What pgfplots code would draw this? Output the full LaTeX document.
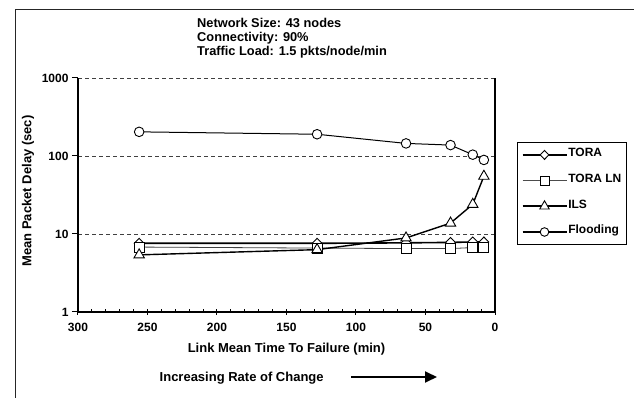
\documentclass[border=0pt]{standalone}
\usepackage{pgfplots}
\pgfplotsset{compat=1.18}
\usepackage{fontspec}
\setmainfont{Liberation Sans}
\usetikzlibrary{arrows.meta}
\begin{document}
\begin{tikzpicture}
\useasboundingbox (0pt,0pt) rectangle (634pt,398pt);
\draw[line width=1pt, black!85] (15pt,0pt) -- (15pt,388pt) -- (634pt,388pt);
\node[anchor=base west, font=\fontsize{12.8}{13}\selectfont\bfseries, inner sep=0pt] at (197pt,370pt) {Network Size: 43 nodes};
\node[anchor=base west, font=\fontsize{12.8}{13}\selectfont\bfseries, inner sep=0pt] at (197pt,356pt) {Connectivity: 90\%};
\node[anchor=base west, font=\fontsize{12.8}{13}\selectfont\bfseries, inner sep=0pt] at (197pt,342pt) {Traffic Load: 1.5 pkts/node/min};
\begin{axis}[
  at={(78pt,86pt)}, anchor=south west,
  scale only axis, width=417pt, height=234pt,
  x dir=reverse, xmin=0, xmax=300,
  ymode=log, ymin=1, ymax=1000,
  axis x line*=bottom, axis y line*=left,
  axis line style={line width=1.2pt, black},
  xtick={0,50,100,150,200,250,300},
  minor x tick num=4,
  ytick={1,10,100,1000}, yticklabels={1,10,100,1000},
  yminorticks=false,
  tick align=center,
  major tick length=6pt, minor tick length=3pt,
  every tick/.style={black, line width=1pt},
  minor x tick style={yshift=1.5pt},
  y tick style={xshift=-3pt},
  ymajorgrids,
  grid style={black!75, line width=0.9pt, dash pattern=on 4pt off 3pt},
  /pgf/number format/assume math mode=true,
  tick label style={font=\fontsize{12}{12}\selectfont\bfseries},
  x tick label style={yshift=-5pt},
  y tick label style={xshift=-3pt},
  xlabel={Link Mean Time To Failure (min)},
  ylabel={Mean Packet Delay (sec)},
  label style={font=\fontsize{13}{13}\selectfont\bfseries},
  xlabel style={at={(axis description cs:0.5,-0.171)}, anchor=base},
  ylabel style={at={(axis description cs:-0.12,0.517)}, anchor=center, rotate=0},
  legend style={at={(1.0535,0.7278)}, anchor=north west, draw=black, line width=0.8pt,
    font=\fontsize{12}{12}\selectfont\bfseries,
    inner xsep=4pt, inner ysep=5pt, row sep=10.1pt,
    nodes={inner sep=1pt, text height=8.6pt, text depth=5pt},
    legend cell align=left},
  legend image code/.code={\draw[mark repeat=2,mark phase=2,#1] plot coordinates {(0pt,0pt) (22pt,0pt) (44pt,0pt)};},
  clip=false,
]
\addplot[forget plot, black, line width=1.6pt, mark=diamond*, mark size=5pt, mark options={solid, fill=white, xscale=1.3, line width=0.9pt}]
  coordinates {(256,7.6) (128,7.6) (64,7.7) (32,7.8) (16,7.9) (8,7.9)};
\addplot[forget plot, black!75, line width=0.8pt, mark=square*, mark size=5pt, mark options={solid, fill=white, line width=0.9pt, draw=black}]
  coordinates {(256,6.8) (128,6.6) (64,6.5) (32,6.5) (16,6.7) (8,6.7)};
\addplot[forget plot, black, line width=1.4pt, mark=triangle*, mark size=6pt, mark options={solid, fill=white, line width=0.9pt}]
  coordinates {(256,5.4) (128,6.3) (64,8.9) (32,13.8) (16,24) (8,55)};
\addplot[forget plot, black, line width=1pt, mark=*, mark size=4.8pt, mark options={solid, fill=white, line width=0.9pt}]
  coordinates {(256,204) (128,190) (64,145) (32,138) (16,104) (8,89)};
\addlegendimage{black, line width=1.6pt, mark=diamond*, mark size=4.5pt, mark options={solid, fill=white, xscale=1.3, line width=0.9pt}}
\addlegendentry{TORA}
\addlegendimage{black!70, line width=0.8pt, mark=square*, mark size=4.5pt, mark options={solid, fill=white, line width=0.9pt, draw=black}}
\addlegendentry{TORA LN}
\addlegendimage{black, line width=1.6pt, mark=triangle*, mark size=5.5pt, mark options={solid, fill=white, line width=0.9pt}}
\addlegendentry{ILS}
\addlegendimage{black, line width=1.6pt, mark=*, mark size=4.3pt, mark options={solid, fill=white, line width=0.9pt}}
\addlegendentry{Flooding}
\draw[line width=1.2pt] (rel axis cs:0,0) -- (rel axis cs:1,0) -- (rel axis cs:1,1);
\end{axis}
\node[anchor=base west, font=\fontsize{13}{13}\selectfont\bfseries, inner sep=0pt] at (159.5pt,16.4pt) {Increasing Rate of Change};
\draw[line width=1.8pt, -{Triangle[length=12pt,width=11pt]}] (351pt,21pt) -- (437pt,21pt);
\end{tikzpicture}
\end{document}
